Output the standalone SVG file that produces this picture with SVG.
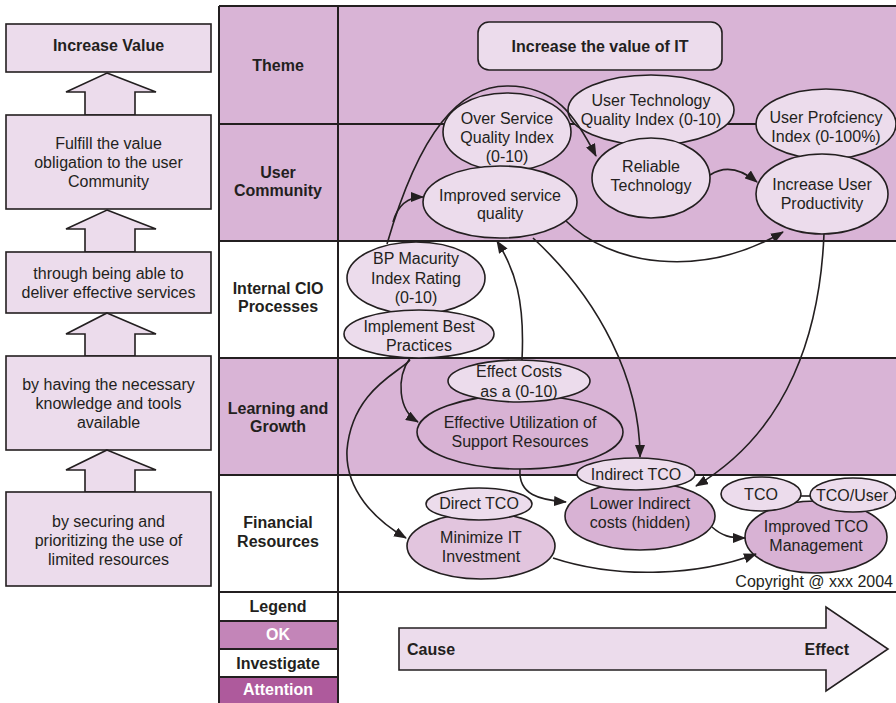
<svg xmlns="http://www.w3.org/2000/svg" width="896" height="703" viewBox="0 0 896 703">
<defs>
<marker id="ah" markerUnits="userSpaceOnUse" markerWidth="13" markerHeight="10" refX="12" refY="5" orient="auto">
<path d="M0,0 L13,5 L0,10 z" fill="#231f20"/>
</marker>
<style>
text{font-family:"Liberation Sans",Arial,sans-serif;font-size:16px;fill:#231f20;text-anchor:middle}
.b{font-weight:bold}
.w{fill:#ffffff}
.box{fill:#ecdcec;stroke:#231f20;stroke-width:1.6}
.up{fill:#ecdcec;stroke:#231f20;stroke-width:1.6}
.grid{stroke:#231f20;stroke-width:2;fill:none}
.el{fill:#ecdcec;stroke:#231f20;stroke-width:1.6}
.ed{fill:#d8b2d4;stroke:#231f20;stroke-width:1.6}
.em{fill:#e2c5de;stroke:#231f20;stroke-width:1.6}
.c{fill:none;stroke:#231f20;stroke-width:1.6}
.ca{fill:none;stroke:#231f20;stroke-width:1.6;marker-end:url(#ah)}
</style>
</defs>
<rect x="0" y="0" width="896" height="703" fill="#ffffff"/>

<!-- left column -->
<g id="left-increase-value">
<rect class="box" x="6" y="24" width="205" height="48"/>
<text class="b" x="108.5" y="51">Increase Value</text>
</g>
<g id="left-arrow-1"><path class="up" d="M107,73 L156,92 L135,92 L135,115 L85,115 L85,92 L66,92 z"/></g>
<g id="left-fulfill">
<rect class="box" x="6" y="115" width="205" height="94"/>
<text x="108.5" y="149">Fulfill the value</text>
<text x="108.5" y="168">obligation to the user</text>
<text x="108.5" y="187">Community</text>
</g>
<g id="left-arrow-2"><path class="up" d="M107,210 L156,229 L135,229 L135,252 L85,252 L85,229 L66,229 z"/></g>
<g id="left-deliver">
<rect class="box" x="6" y="252" width="205" height="61"/>
<text x="108.5" y="279">through being able to</text>
<text x="108.5" y="298">deliver effective services</text>
</g>
<g id="left-arrow-3"><path class="up" d="M107,313 L156,334 L135,334 L135,356 L85,356 L85,334 L66,334 z"/></g>
<g id="left-knowledge">
<rect class="box" x="6" y="356" width="205" height="94"/>
<text x="108.5" y="390">by having the necessary</text>
<text x="108.5" y="409">knowledge and tools</text>
<text x="108.5" y="428">available</text>
</g>
<g id="left-arrow-4"><path class="up" d="M107,450 L156,470 L135,470 L135,492 L85,492 L85,470 L66,470 z"/></g>
<g id="left-resources">
<rect class="box" x="6" y="492" width="205" height="94"/>
<text x="108.5" y="527">by securing and</text>
<text x="108.5" y="546">prioritizing the use of</text>
<text x="108.5" y="565">limited resources</text>
</g>

<!-- matrix -->
<g id="matrix">
<rect x="219" y="6" width="677" height="235" fill="#d9b4d6"/>
<rect x="219" y="358" width="677" height="117" fill="#d9b4d6"/>
<rect x="219" y="621" width="119" height="28" fill="#c385b8"/>
<rect x="219" y="677" width="119" height="26" fill="#ae5a9c"/>
<path class="grid" d="M219,6 H896 M219,124 H896 M219,241 H896 M219,358 H896 M219,475 H896 M219,592 H896 M219,621 H338 M219,649 H338 M219,677 H338 M219,6 V703 M338,6 V703"/>
<text class="b" x="278" y="71">Theme</text>
<text class="b" x="278" y="178">User</text>
<text class="b" x="278" y="196">Community</text>
<text class="b" x="278" y="294">Internal CIO</text>
<text class="b" x="278" y="312">Processes</text>
<text class="b" x="278" y="414">Learning and</text>
<text class="b" x="278" y="432">Growth</text>
<text class="b" x="278" y="528">Financial</text>
<text class="b" x="278" y="547">Resources</text>
<text class="b" x="278" y="612">Legend</text>
<text class="b w" x="278" y="640">OK</text>
<text class="b" x="278" y="669">Investigate</text>
<text class="b w" x="278" y="695">Attention</text>
</g>

<g id="theme-box">
<rect class="el" x="478" y="22" width="244" height="48" rx="11"/>
<text class="b" x="600" y="52">Increase the value of IT</text>
</g>

<g id="over-service">
<ellipse class="el" cx="507" cy="132" rx="64" ry="39"/>
<text x="507" y="124">Over Service</text>
<text x="507" y="143">Quality Index</text>
<text x="507" y="162">(0-10)</text>
</g>
<g id="improved-service">
<ellipse class="el" cx="500" cy="202" rx="77" ry="36"/>
<text x="500" y="201">Improved service</text>
<text x="500" y="219">quality</text>
</g>
<g id="user-tech-index">
<ellipse class="el" cx="651" cy="110" rx="83" ry="35"/>
<text x="651" y="106">User Technology</text>
<text x="651" y="125">Quality Index (0-10)</text>
</g>
<g id="reliable-tech">
<ellipse class="el" cx="651" cy="178" rx="59" ry="40"/>
<text x="651" y="172">Reliable</text>
<text x="651" y="191">Technology</text>
</g>
<g id="user-proficiency">
<ellipse class="el" cx="826" cy="124" rx="70" ry="35"/>
<text x="826" y="123">User Profciency</text>
<text x="826" y="142">Index (0-100%)</text>
</g>
<g id="user-productivity">
<ellipse class="el" cx="822" cy="194" rx="66" ry="40"/>
<text x="822" y="190">Increase User</text>
<text x="822" y="209">Productivity</text>
</g>
<g id="bp-maturity">
<ellipse class="el" cx="416" cy="278" rx="69" ry="36"/>
<text x="416" y="264">BP Macurity</text>
<text x="416" y="284">Index Rating</text>
<text x="416" y="303">(0-10)</text>
</g>
<g id="best-practices">
<ellipse class="el" cx="419" cy="334" rx="75" ry="24"/>
<text x="419" y="332">Implement Best</text>
<text x="419" y="351">Practices</text>
</g>
<g id="effective-utilization">
<ellipse class="ed" cx="520" cy="432" rx="103" ry="37"/>
<text x="520" y="428">Effective Utilization of</text>
<text x="520" y="447">Support Resources</text>
</g>
<g id="effect-costs">
<ellipse class="el" cx="519" cy="381" rx="71" ry="21"/>
<text x="519" y="377">Effect Costs</text>
<text x="519" y="397">as a (0-10)</text>
</g>
<g id="lower-indirect">
<ellipse class="ed" cx="640" cy="516" rx="75" ry="34"/>
<text x="640" y="509">Lower Indirect</text>
<text x="640" y="528">costs (hidden)</text>
</g>
<g id="indirect-tco">
<ellipse class="el" cx="636" cy="474" rx="59" ry="16"/>
<text x="636" y="480">Indirect TCO</text>
</g>
<g id="minimize-it">
<ellipse class="em" cx="481" cy="546" rx="74" ry="33"/>
<text x="481" y="543">Minimize IT</text>
<text x="481" y="562">Investment</text>
</g>
<g id="direct-tco">
<ellipse class="el" cx="479" cy="504" rx="53" ry="16"/>
<text x="479" y="509">Direct TCO</text>
</g>
<g id="improved-tco">
<ellipse class="ed" cx="816" cy="537" rx="71" ry="36"/>
<text x="816" y="532">Improved TCO</text>
<text x="816" y="551">Management</text>
</g>
<g id="tco">
<ellipse class="el" cx="761" cy="494" rx="40" ry="17"/>
<text x="761" y="500">TCO</text>
</g>
<g id="tco-user">
<ellipse class="el" cx="853" cy="495" rx="43" ry="17"/>
<text x="852" y="501">TCO/User</text>
</g>

<g id="connectors">
<path class="ca" d="M387,244 C420,130 460,86 507,86 C555,86 575,115 596,156"/>
<path class="ca" d="M393,222 C398,204 408,197 423,197"/>
<path class="ca" d="M710,175 C725,165 740,168 757,182"/>
<path class="ca" d="M566,221 C610,265 700,280 783,232"/>
<path class="ca" d="M533,238 C600,300 640,380 640,457"/>
<path class="ca" d="M522,360 C525,300 515,270 497,241"/>
<path class="ca" d="M410,358 C396,378 398,410 418,422"/>
<path class="ca" d="M410,360 C400,372 352,390 347,450 C345,490 375,520 406,538"/>
<path class="ca" d="M520,469 C518,495 540,500 566,502"/>
<path class="ca" d="M824,234 C820,330 790,430 696,486"/>
<path class="ca" d="M712,527 C722,536 730,538 745,538"/>
<path class="ca" d="M553,558 C620,580 700,575 756,554"/>
<path class="c" d="M801,496 L810,496"/>
</g>

<text x="893" y="587" style="text-anchor:end">Copyright @ xxx 2004</text>

<g id="cause-effect">
<path class="box" d="M399,628 L826,628 L826,607 L888,649 L826,691 L826,670 L399,670 z"/>
<text class="b" x="407" y="655" style="text-anchor:start">Cause</text>
<text class="b" x="849" y="655" style="text-anchor:end">Effect</text>
</g>
</svg>
